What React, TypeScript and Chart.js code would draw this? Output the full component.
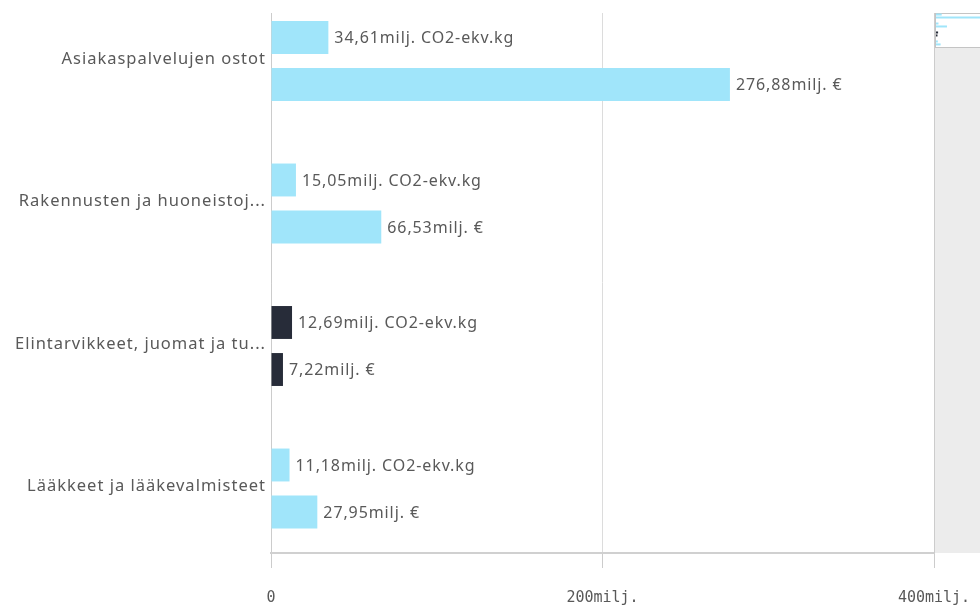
import React, { useEffect, useRef } from 'react';
import { Chart, registerables } from 'chart.js';

Chart.register(...registerables);

const categories = [
  'Asiakaspalvelujen ostot',
  'Rakennusten ja huoneistoj...',
  'Elintarvikkeet, juomat ja tu...',
  'Lääkkeet ja lääkevalmisteet',
];
const co2Values = [34.61, 15.05, 12.69, 11.18];
const eurValues = [276.88, 66.53, 7.22, 27.95];
const highlighted = [false, false, true, false];
const seriesUnits = ['CO2-ekv.kg', '€'];
const xTickValues = [0, 200, 400];

const LIGHT = '#a0e5fa';
const DARK = '#272c39';
const TEXT = '#595959';

const fmt = (v: number) => v.toFixed(2).replace('.', ',');

const labelPlugin = {
  id: 'barLabels',
  afterDatasetsDraw(chart: any) {
    const ctx = chart.ctx;
    ctx.save();
    ctx.font = '16px "Noto Sans"';
    (ctx as any).letterSpacing = '0.9px';
    ctx.fillStyle = TEXT;
    ctx.textBaseline = 'middle';
    ctx.textAlign = 'left';
    chart.data.datasets.forEach((ds: any, di: number) => {
      const meta = chart.getDatasetMeta(di);
      meta.data.forEach((el: any, i: number) => {
        const v = ds.data[i].x;
        ctx.fillText(fmt(v) + 'milj. ' + seriesUnits[di], el.x + 6, el.y + 1);
      });
    });
    // category labels on the y axis
    const yScale = chart.scales.y;
    ctx.font = '16.5px "Noto Sans"';
    (ctx as any).letterSpacing = '1px';
    ctx.textAlign = 'right';
    categories.forEach((c, i) => {
      ctx.fillText(c, chart.chartArea.left - 5, yScale.getPixelForValue(i) - 2);
    });
    ctx.restore();
  },
};

const scrollPlugin = {
  id: 'miniScroll',
  afterDraw(chart: any) {
    const ctx = chart.ctx;
    const { top, bottom, right } = chart.chartArea;
    const W = chart.width;
    const thumbH = 34;
    ctx.save();
    ctx.fillStyle = '#ececec';
    ctx.fillRect(right + 1, top + thumbH, W - right - 1, bottom - top - thumbH);
    ctx.fillStyle = '#ffffff';
    ctx.fillRect(right + 1, top, W - right - 1, thumbH);
    ctx.strokeStyle = '#c4c4c4';
    ctx.lineWidth = 1;
    ctx.strokeRect(right + 1.5, top + 0.5, W - right + 5, thumbH);
    const scale = thumbH / (bottom - top);
    chart.data.datasets.forEach((ds: any, di: number) => {
      const meta = chart.getDatasetMeta(di);
      meta.data.forEach((el: any, i: number) => {
        const v = ds.data[i].x;
        const y = top + (el.y - top) * scale;
        ctx.fillStyle = highlighted[i] ? DARK : LIGHT;
        ctx.fillRect(right + 2, y - 1, Math.max(1.5, (v / 400) * 66), 2);
      });
    });
    ctx.strokeStyle = '#cccccc';
    ctx.beginPath();
    ctx.moveTo(right + 0.5, top);
    ctx.lineTo(right + 0.5, bottom);
    ctx.stroke();
    ctx.restore();
  },
};

export default function App() {
  const ref = useRef<HTMLCanvasElement | null>(null);
  useEffect(() => {
    if (!ref.current) return;
    const colors = highlighted.map((h) => (h ? DARK : LIGHT));
    const chart = new Chart(ref.current, {
      type: 'bar',
      data: {
        datasets: [
          {
            label: 'CO2',
            data: co2Values.map((v, i) => ({ x: v, y: i })) as any,
            backgroundColor: colors,
            borderWidth: 0,
          },
          {
            label: 'EUR',
            data: eurValues.map((v, i) => ({ x: v, y: i })) as any,
            backgroundColor: colors,
            borderWidth: 0,
          },
        ],
      },
      options: {
        indexAxis: 'y',
        animation: false,
        responsive: false,
        categoryPercentage: 0.66,
        barPercentage: 0.7,
        layout: { padding: { top: 13, right: 46, left: 0, bottom: 0 } },
        plugins: { legend: { display: false }, tooltip: { enabled: false } },
        scales: {
          y: {
            type: 'linear',
            reverse: true,
            bounds: 'data',
            offset: false,
            min: -0.3368,
            max: 3.4526,
            afterBuildTicks: (scale: any) => {
              scale.ticks = categories.map((_, i) => ({ value: i }));
            },
            afterFit: (scale: any) => {
              scale.width = 271;
            },
            ticks: { display: false },
            grid: { display: false },
            border: { display: true, color: '#cccccc', width: 1 },
          },
          x: {
            type: 'linear',
            min: 0,
            max: 400,
            afterBuildTicks: (scale: any) => {
              scale.ticks = xTickValues.map((v) => ({ value: v }));
            },
            afterFit: (scale: any) => {
              scale.height = 54;
              scale.paddingRight = 0;
              scale.paddingLeft = 0;
            },
            ticks: {
              callback: (v: any) => (v === 0 ? '0' : v + 'milj.'),
              color: TEXT,
              font: { family: 'DejaVu Sans Mono', size: 15 },
              padding: 21,
              maxRotation: 0,
            },
            grid: {
              color: '#dcdcdc',
              lineWidth: 1,
              drawTicks: true,
              tickLength: 15,
              tickColor: '#cccccc',
            },
            border: { display: true, color: '#d0d0d0', width: 2 },
          },
        },
      },
      plugins: [labelPlugin, scrollPlugin],
    });
    return () => chart.destroy();
  }, []);
  return (
    <div style={{ position: 'absolute', left: 0, top: 0, width: 980, height: 607, background: '#fff' }}>
      <canvas ref={ref} width={980} height={607} />
    </div>
  );
}
